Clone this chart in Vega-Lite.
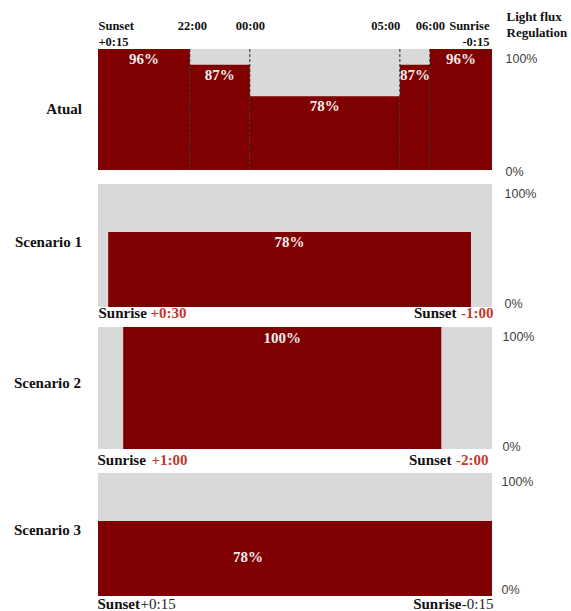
{
  "$schema": "https://vega.github.io/schema/vega-lite/v6.json",
  "autosize": {"type": "pad"},
  "padding": {"left": 13, "top": 10, "right": 0, "bottom": 0},
  "background": "white",
  "datasets": {
    "segments": [
      {"panel": "Atual", "start": -5.06, "end": -2, "level": 100, "label": "96%"},
      {"panel": "Atual", "start": -2, "end": 0, "level": 87, "label": "87%"},
      {"panel": "Atual", "start": 0, "end": 5, "level": 61, "label": "78%"},
      {"panel": "Atual", "start": 5, "end": 6, "level": 87, "label": "87%"},
      {"panel": "Atual", "start": 6, "end": 8.07, "level": 100, "label": "96%"},
      {"panel": "Scenario 1", "start": -4.72, "end": 7.37, "level": 61, "label": "78%"},
      {"panel": "Scenario 2", "start": -4.22, "end": 6.38, "level": 100, "label": "100%"},
      {"panel": "Scenario 3", "start": -5.06, "end": 8.07, "level": 61, "label": "78%"}
    ]
  },
  "spacing": 6,
  "vconcat": [
    {
      "width": 394,
      "height": 121,
      "title": {"text": "Atual", "orient": "left", "angle": 0, "align": "left", "baseline": "middle", "anchor": "middle", "frame": "group", "offset": 16, "dy": -1, "font": "Liberation Serif", "fontSize": 15, "fontWeight": "bold", "color": "#111111"},
      "data": {"name": "segments"},
      "transform": [
        {"filter": "datum.panel === 'Atual'"},
        {"calculate": "(datum.start + datum.end) / 2", "as": "mid"}
      ],
      "layer": [
        {
          "mark": {"type": "rect", "color": "#7f0000"},
          "encoding": {
            "x": {"field": "start", "type": "quantitative", "scale": {"domain": [-5.06, 8.07], "nice": false, "zero": false},
              "axis": {"orient": "top", "values": [-5.06, -2, 0, 5, 6, 8.07],
                "labelExpr": "datum.value < -4 ? ['Sunset', '+0:15'] : datum.value == -2 ? '22:00' : datum.value == 0 ? '00:00' : datum.value == 5 ? '05:00' : datum.value == 6 ? '06:00' : ['Sunrise', '-0:15']",
                "labelAlign": {"expr": "datum.value < -4 ? 'left' : (datum.value == 5 || datum.value > 7) ? 'right' : 'center'"},
                "labelOffset": {"expr": "datum.value > 7 ? -3 : datum.value == -2 ? 2 : 0"},
                "labelBaseline": "top", "labelPadding": 30, "labelLineHeight": 16,
                "labelFont": "Liberation Serif", "labelFontWeight": "bold", "labelFontSize": 12.5, "labelColor": "#111111",
                "ticks": false, "tickSize": 0, "domain": false, "grid": false, "title": null,
                "labelOverlap": false, "labelBound": false, "labelFlush": false}},
            "x2": {"field": "end"},
            "y": {"field": "level", "type": "quantitative", "scale": {"domain": [0, 100], "nice": false},
              "axis": {"orient": "right", "values": [0, 100], "labelExpr": "datum.value + '%'",
                "ticks": false, "tickSize": 0, "domain": false, "grid": false,
                "labelAlign": "left", "labelBaseline": "middle",
                "labelOffset": {"expr": "datum.value == 100 ? 9 : 1"},
                "labelPadding": 13,
                "labelFont": "Liberation Sans", "labelFontSize": 12.5, "labelColor": "#404040",
                "labelOverlap": false, "labelBound": false, "labelFlush": false,
                "title": ["Light flux", "Regulation"], "titleAngle": 0, "titleAlign": "left", "titleBaseline": "top",
                "titleX": 14, "titleY": -38.5, "titleFont": "Liberation Serif", "titleFontSize": 13,
                "titleFontWeight": "bold", "titleColor": "#111111", "titleLineHeight": 16}},
            "y2": {"datum": 0}
          }
        },
        {
          "transform": [{"filter": "datum.start > -5"}],
          "mark": {"type": "rule", "color": "#262626", "strokeDash": [3, 2], "strokeWidth": 1},
          "encoding": {
            "x": {"field": "start", "type": "quantitative", "scale": {"domain": [-5.06, 8.07], "nice": false, "zero": false}}
          }
        },
        {
          "mark": {"type": "text", "baseline": "middle", "dy": 10, "font": "Liberation Serif", "fontSize": 15, "fontWeight": "bold", "color": "#f3ecec"},
          "encoding": {
            "x": {"field": "mid", "type": "quantitative", "scale": {"domain": [-5.06, 8.07], "nice": false, "zero": false}},
            "y": {"field": "level", "type": "quantitative", "scale": {"domain": [0, 100], "nice": false}},
            "text": {"field": "label"}
          }
        }
      ]
    },
    {
      "width": 394,
      "height": 123,
      "title": {"text": "Scenario 1", "orient": "left", "angle": 0, "align": "left", "baseline": "middle", "anchor": "middle", "frame": "group", "offset": 16, "dy": -4, "font": "Liberation Serif", "fontSize": 15, "fontWeight": "bold", "color": "#111111"},
      "data": {"name": "segments"},
      "transform": [
        {"filter": "datum.panel === 'Scenario 1'"},
        {"calculate": "(datum.start + datum.end) / 2", "as": "mid"}
      ],
      "resolve": {"axis": {"x": "independent"}},
      "layer": [
        {
          "mark": {"type": "rect", "color": "#7f0000"},
          "encoding": {
            "x": {"field": "start", "type": "quantitative", "scale": {"domain": [-5.06, 8.07], "nice": false, "zero": false},
              "axis": {"orient": "bottom", "values": [-5.06, 8.07],
                "labelExpr": "datum.value < 0 ? 'Sunrise' : 'Sunset'",
                "labelAlign": {"expr": "datum.value < 0 ? 'left' : 'right'"},
                "labelOffset": {"expr": "datum.value < 0 ? 0 : -36"},
                "labelBaseline": "middle", "labelPadding": 5.5,
                "labelFont": "Liberation Serif", "labelFontWeight": "bold", "labelFontSize": 15, "labelColor": "#111111",
                "ticks": false, "tickSize": 0, "domain": false, "grid": false, "title": null,
                "labelOverlap": false, "labelBound": false, "labelFlush": false}},
            "x2": {"field": "end"},
            "y": {"field": "level", "type": "quantitative", "scale": {"domain": [0, 100], "nice": false},
              "axis": {"orient": "right", "values": [0, 100], "labelExpr": "datum.value + '%'",
                "ticks": false, "tickSize": 0, "domain": false, "grid": false,
                "labelAlign": "left", "labelBaseline": "middle",
                "labelOffset": {"expr": "datum.value == 100 ? 9 : -4"},
                "labelPadding": 12,
                "labelFont": "Liberation Sans", "labelFontSize": 12.5, "labelColor": "#404040",
                "labelOverlap": false, "labelBound": false, "labelFlush": false, "title": null}},
            "y2": {"datum": 0}
          }
        },
        {
          "mark": {"type": "text", "baseline": "middle", "dy": 10, "font": "Liberation Serif", "fontSize": 15, "fontWeight": "bold", "color": "#f3ecec"},
          "encoding": {
            "x": {"field": "mid", "type": "quantitative", "scale": {"domain": [-5.06, 8.07], "nice": false, "zero": false},
              "axis": {"orient": "bottom", "values": [-5.06, 8.07],
                "labelExpr": "datum.value < 0 ? '+0:30' : '-1:00'",
                "labelAlign": {"expr": "datum.value < 0 ? 'left' : 'right'"},
                "labelOffset": {"expr": "datum.value < 0 ? 52 : 1"},
                "labelBaseline": "middle", "labelPadding": 5.5,
                "labelFont": "Liberation Serif", "labelFontWeight": "bold", "labelFontSize": 15, "labelColor": "#c0392b",
                "ticks": false, "tickSize": 0, "domain": false, "grid": false, "title": null,
                "labelOverlap": false, "labelBound": false, "labelFlush": false}},
            "y": {"field": "level", "type": "quantitative", "scale": {"domain": [0, 100], "nice": false}},
            "text": {"field": "label"}
          }
        }
      ]
    },
    {
      "width": 394,
      "height": 122,
      "title": {"text": "Scenario 2", "orient": "left", "angle": 0, "align": "left", "baseline": "middle", "anchor": "middle", "frame": "group", "offset": 16, "dy": -5, "font": "Liberation Serif", "fontSize": 15, "fontWeight": "bold", "color": "#111111"},
      "data": {"name": "segments"},
      "transform": [
        {"filter": "datum.panel === 'Scenario 2'"},
        {"calculate": "(datum.start + datum.end) / 2", "as": "mid"}
      ],
      "resolve": {"axis": {"x": "independent"}},
      "layer": [
        {
          "mark": {"type": "rect", "color": "#7f0000"},
          "encoding": {
            "x": {"field": "start", "type": "quantitative", "scale": {"domain": [-5.06, 8.07], "nice": false, "zero": false},
              "axis": {"orient": "bottom", "values": [-5.06, 8.07],
                "labelExpr": "datum.value < 0 ? 'Sunrise' : 'Sunset'",
                "labelAlign": {"expr": "datum.value < 0 ? 'left' : 'right'"},
                "labelOffset": {"expr": "datum.value < 0 ? -1 : -41"},
                "labelBaseline": "middle", "labelPadding": 10,
                "labelFont": "Liberation Serif", "labelFontWeight": "bold", "labelFontSize": 15, "labelColor": "#111111",
                "ticks": false, "tickSize": 0, "domain": false, "grid": false, "title": null,
                "labelOverlap": false, "labelBound": false, "labelFlush": false}},
            "x2": {"field": "end"},
            "y": {"field": "level", "type": "quantitative", "scale": {"domain": [0, 100], "nice": false},
              "axis": {"orient": "right", "values": [0, 100], "labelExpr": "datum.value + '%'",
                "ticks": false, "tickSize": 0, "domain": false, "grid": false,
                "labelAlign": "left", "labelBaseline": "middle",
                "labelOffset": {"expr": "datum.value == 100 ? 9 : -3"},
                "labelPadding": 10,
                "labelFont": "Liberation Sans", "labelFontSize": 12.5, "labelColor": "#404040",
                "labelOverlap": false, "labelBound": false, "labelFlush": false, "title": null}},
            "y2": {"datum": 0}
          }
        },
        {
          "mark": {"type": "text", "baseline": "middle", "dy": 11, "font": "Liberation Serif", "fontSize": 15, "fontWeight": "bold", "color": "#f3ecec"},
          "encoding": {
            "x": {"field": "mid", "type": "quantitative", "scale": {"domain": [-5.06, 8.07], "nice": false, "zero": false},
              "axis": {"orient": "bottom", "values": [-5.06, 8.07],
                "labelExpr": "datum.value < 0 ? '+1:00' : '-2:00'",
                "labelAlign": {"expr": "datum.value < 0 ? 'left' : 'right'"},
                "labelOffset": {"expr": "datum.value < 0 ? 53 : -4"},
                "labelBaseline": "middle", "labelPadding": 10,
                "labelFont": "Liberation Serif", "labelFontWeight": "bold", "labelFontSize": 15, "labelColor": "#c0392b",
                "ticks": false, "tickSize": 0, "domain": false, "grid": false, "title": null,
                "labelOverlap": false, "labelBound": false, "labelFlush": false}},
            "y": {"field": "level", "type": "quantitative", "scale": {"domain": [0, 100], "nice": false}},
            "text": {"field": "label"}
          }
        }
      ]
    },
    {
      "width": 394,
      "height": 123,
      "title": {"text": "Scenario 3", "orient": "left", "angle": 0, "align": "left", "baseline": "middle", "anchor": "middle", "frame": "group", "offset": 16, "dy": -5, "font": "Liberation Serif", "fontSize": 15, "fontWeight": "bold", "color": "#111111"},
      "data": {"name": "segments"},
      "transform": [
        {"filter": "datum.panel === 'Scenario 3'"},
        {"calculate": "(datum.start + datum.end) / 2", "as": "mid"}
      ],
      "resolve": {"axis": {"x": "independent"}},
      "layer": [
        {
          "mark": {"type": "rect", "color": "#7f0000"},
          "encoding": {
            "x": {"field": "start", "type": "quantitative", "scale": {"domain": [-5.06, 8.07], "nice": false, "zero": false},
              "axis": {"orient": "bottom", "values": [-5.06, 8.07],
                "labelExpr": "datum.value < 0 ? 'Sunset' : 'Sunrise'",
                "labelAlign": {"expr": "datum.value < 0 ? 'left' : 'right'"},
                "labelOffset": {"expr": "datum.value < 0 ? -1 : -31"},
                "labelBaseline": "middle", "labelPadding": 7,
                "labelFont": "Liberation Serif", "labelFontWeight": "bold", "labelFontSize": 15, "labelColor": "#111111",
                "ticks": false, "tickSize": 0, "domain": false, "grid": false, "title": null,
                "labelOverlap": false, "labelBound": false, "labelFlush": false}},
            "x2": {"field": "end"},
            "y": {"field": "level", "type": "quantitative", "scale": {"domain": [0, 100], "nice": false},
              "axis": {"orient": "right", "values": [0, 100], "labelExpr": "datum.value + '%'",
                "ticks": false, "tickSize": 0, "domain": false, "grid": false,
                "labelAlign": "left", "labelBaseline": "middle",
                "labelOffset": {"expr": "datum.value == 100 ? 8 : -7"},
                "labelPadding": 9,
                "labelFont": "Liberation Sans", "labelFontSize": 12.5, "labelColor": "#404040",
                "labelOverlap": false, "labelBound": false, "labelFlush": false, "title": null}},
            "y2": {"datum": 0}
          }
        },
        {
          "mark": {"type": "text", "baseline": "middle", "dy": 36, "dx": -47, "font": "Liberation Serif", "fontSize": 15, "fontWeight": "bold", "color": "#f3ecec"},
          "encoding": {
            "x": {"field": "mid", "type": "quantitative", "scale": {"domain": [-5.06, 8.07], "nice": false, "zero": false},
              "axis": {"orient": "bottom", "values": [-5.06, 8.07],
                "labelExpr": "datum.value < 0 ? '+0:15' : '-0:15'",
                "labelAlign": {"expr": "datum.value < 0 ? 'left' : 'right'"},
                "labelOffset": {"expr": "datum.value < 0 ? 42 : 1"},
                "labelBaseline": "middle", "labelPadding": 7,
                "labelFont": "Liberation Serif", "labelFontWeight": "normal", "labelFontSize": 15, "labelColor": "#222222",
                "ticks": false, "tickSize": 0, "domain": false, "grid": false, "title": null,
                "labelOverlap": false, "labelBound": false, "labelFlush": false}},
            "y": {"field": "level", "type": "quantitative", "scale": {"domain": [0, 100], "nice": false}},
            "text": {"field": "label"}
          }
        }
      ]
    }
  ],
  "config": {
    "view": {"fill": "#d9d9d9", "stroke": null},
    "font": "Liberation Serif"
  }
}
